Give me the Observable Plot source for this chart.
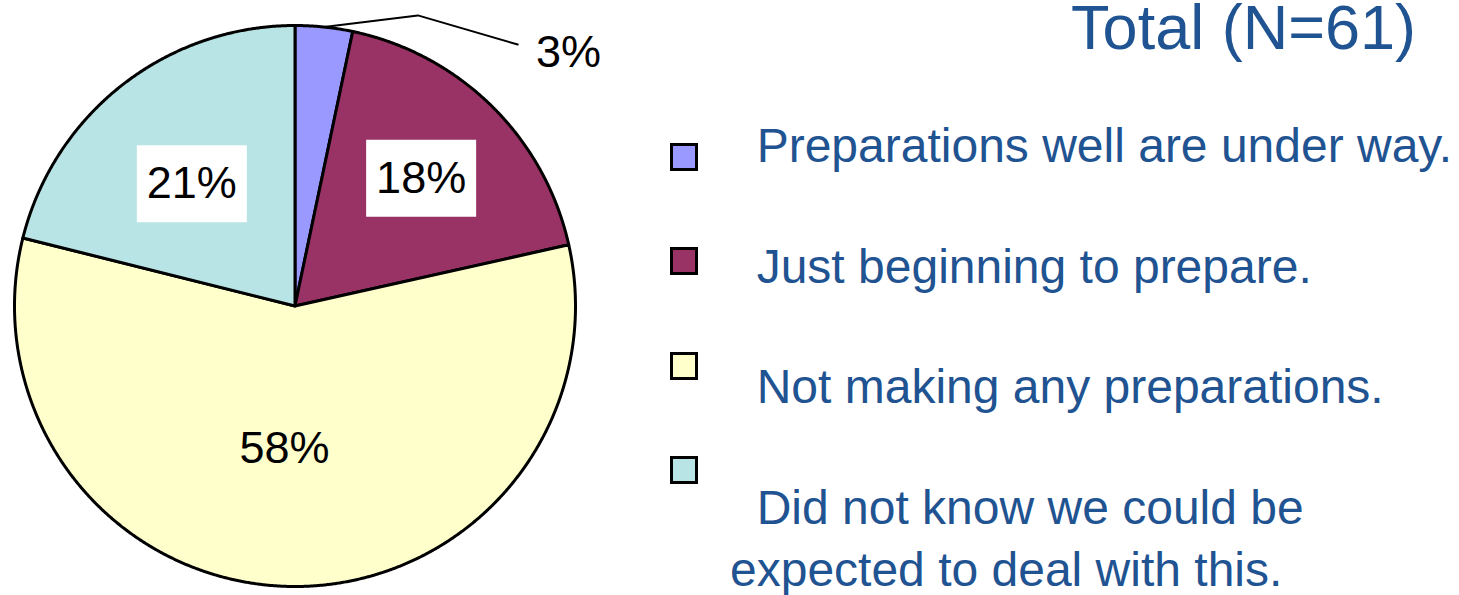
<!DOCTYPE html>
<html>
<head>
<meta charset="utf-8">
<script src="https://cdn.jsdelivr.net/npm/d3@7"></script>
<script src="https://cdn.jsdelivr.net/npm/@observablehq/plot@0.6"></script>
<style>
  html, body { margin: 0; padding: 0; background: #fff; }
  #wrap { position: relative; width: 1459px; height: 595px; overflow: hidden; font-family: "Liberation Sans", Arial, sans-serif; }
  #chart { position: absolute; left: 0; top: 0; }
  #title { position: absolute; right: 43px; top: -4px; font-size: 63px; line-height: 63px; color: #1f5391; white-space: nowrap; }
  #swatches { position: absolute; left: 670px; top: 143px; }
  .sw { position: absolute; left: 0; width: 28px; height: 28px; box-sizing: border-box; border: 3px solid #000; }
  #labels { position: absolute; left: 730px; top: 115px; width: 729px; color: #1f5391; font-size: 48px; line-height: 62px; }
  .lab { white-space: pre-wrap; margin-bottom: 58.5px; }
</style>
</head>
<body>
<div id="wrap">
  <div id="chart"></div>
  <div id="title"></div>
  <div id="swatches"></div>
  <div id="labels"></div>
</div>
<script>
// ---- data ----
const categories = [
  "Preparations well are under way.",
  "Just beginning to prepare.",
  "Not making any preparations.",
  "Did not know we could be expected to deal with this."
];
const percents = [3.3, 18.2, 57.4, 21.1];
const pctLabels = ["3%", "18%", "58%", "21%"];
const palette = ["#9999ff", "#993366", "#ffffcc", "#b8e4e6"];
const titleText = "Total (N=61)";

// ---- layout ----
const rows = categories.map((c, i) => ({category: c, pct: percents[i], label: pctLabels[i]}));
const arcs = d3.pie().sort(null).value(d => d.pct)(rows);

function wedge(a0, a1) {
  const n = Math.max(2, Math.ceil((a1 - a0) / (Math.PI / 720)));
  const ring = [[0, 0]];
  for (let i = 0; i <= n; i++) {
    const a = a0 + (a1 - a0) * i / n;
    ring.push([Math.sin(a), -Math.cos(a)]);
  }
  ring.push([0, 0]);
  return ring;
}
const slices = arcs.map(a => ({
  type: "Feature",
  properties: {category: a.data.category},
  geometry: {type: "Polygon", coordinates: [wedge(a.startAngle, a.endAngle)]}
}));

// label placement (fraction of radius, small angular nudge in degrees) and boxed labels
const labelRadius = {"18%": 0.64, "21%": 0.57, "58%": 0.51};
const labelNudge = {"18%": 0, "21%": -2.2, "58%": 3.5};
const boxedLabels = new Set(["18%", "21%"]);
const outsideLayout = {label: [0.975, -0.905], elbow: [0.438, -1.036], end: [0.794, -0.932]};

const inside = [], outside = [];
arcs.forEach(a => {
  const mid = (a.startAngle + a.endAngle) / 2;
  if (a.data.pct < 5) {
    outside.push({label: a.data.label, x: outsideLayout.label[0], y: outsideLayout.label[1],
      leader: [[Math.sin(mid), -Math.cos(mid)], outsideLayout.elbow, outsideLayout.end]});
  } else {
    const r = labelRadius[a.data.label] ?? 0.6;
    const m = mid + (labelNudge[a.data.label] ?? 0) * Math.PI / 180;
    inside.push({label: a.data.label, x: r * Math.sin(m), y: -r * Math.cos(m), boxed: boxedLabels.has(a.data.label)});
  }
});

const R = 280.5; // pixel radius
const bw = 55 / R, bh = 38.5 / R;
const boxes = inside.filter(d => d.boxed).map(d => ({
  type: "Feature", properties: {},
  geometry: {type: "Polygon", coordinates: [[[d.x - bw, d.y - bh], [d.x + bw, d.y - bh], [d.x + bw, d.y + bh], [d.x - bw, d.y + bh], [d.x - bw, d.y - bh]]]}
}));
const leaders = outside.map(d => ({type: "Feature", properties: {}, geometry: {type: "LineString", coordinates: d.leader}}));

const font = "Liberation Sans, Arial, sans-serif";
const chart = Plot.plot({
  width: 640,
  height: 595,
  margin: 0,
  projection: {
    type: "identity",
    domain: {type: "MultiPoint", coordinates: [[-1, -1], [1, 1]]},
    insetLeft: 14, insetRight: 65, insetTop: 25, insetBottom: 9
  },
  color: {domain: categories, range: palette},
  style: {fontFamily: font, background: "white"},
  marks: [
    Plot.geo(slices, {fill: d => d.properties.category, stroke: "black", strokeWidth: 3, strokeLinejoin: "round"}),
    Plot.geo(boxes, {fill: "white", stroke: "none"}),
    Plot.geo(leaders, {fill: "none", stroke: "black", strokeWidth: 2}),
    Plot.text(inside, {x: "x", y: "y", text: "label", fontSize: 45, fill: "black", textAnchor: "middle", lineAnchor: "middle"}),
    Plot.text(outside, {x: "x", y: "y", text: "label", fontSize: 45, fill: "black", textAnchor: "middle", lineAnchor: "middle"})
  ]
});
document.getElementById("chart").appendChild(chart);

// ---- legend (HTML) ----
document.getElementById("title").textContent = titleText;
const sw = document.getElementById("swatches");
const lb = document.getElementById("labels");
const swStep = 104.3;
categories.forEach((c, i) => {
  const s = document.createElement("div");
  s.className = "sw";
  s.style.top = (i * swStep) + "px";
  s.style.background = palette[i];
  sw.appendChild(s);
  const t = document.createElement("div");
  t.className = "lab";
  t.textContent = "  " + c;
  lb.appendChild(t);
});
</script>
</body>
</html>
